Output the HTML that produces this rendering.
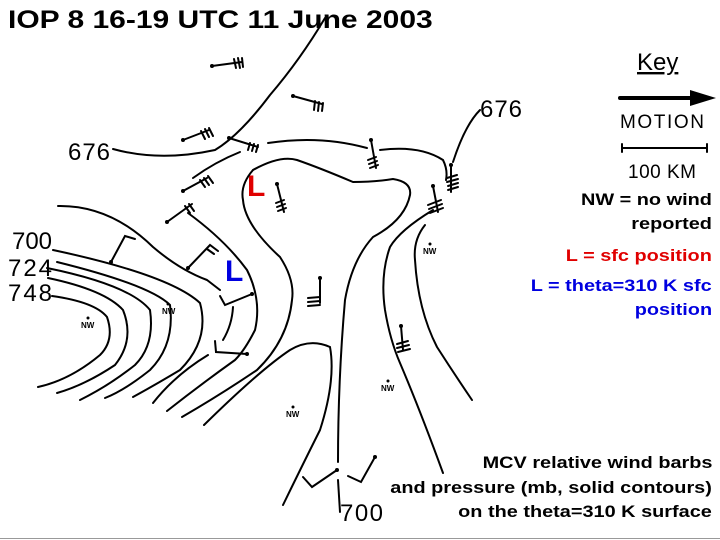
<!DOCTYPE html>
<html><head><meta charset="utf-8"><style>
body{margin:0;width:720px;height:540px;background:#fff;overflow:hidden;font-family:"Liberation Sans",sans-serif}
.t{position:absolute;font-weight:bold;white-space:nowrap}
.r{right:8px;text-align:right;font-size:17px;transform:scaleX(1.17);transform-origin:right center}
</style></head><body>
<div class="t" style="left:8px;top:6px;font-size:25px;transform:scaleX(1.2);transform-origin:left center">IOP 8 16-19 UTC 11 June 2003</div>
<div class="t r" style="top:190px">NW = no wind</div>
<div class="t r" style="top:214px">reported</div>
<div class="t r" style="top:246px;color:#e00000">L = sfc position</div>
<div class="t r" style="top:276px;color:#0000e0">L = theta=310 K sfc</div>
<div class="t r" style="top:300px;color:#0000e0">position</div>
<div class="t r" style="top:453px">MCV relative wind barbs</div>
<div class="t r" style="top:478px">and pressure (mb, solid contours)</div>
<div class="t r" style="top:502px">on the theta=310 K surface</div>
<div class="t" style="left:247px;top:170px;font-size:30px;color:#e00000">L</div>
<div class="t" style="left:225px;top:255px;font-size:30px;color:#0000e0">L</div>
<svg width="720" height="540" style="position:absolute;left:0;top:0" fill="none" stroke="#000" stroke-width="2" stroke-linecap="round">
<g font-family="Liberation Sans, sans-serif" font-size="24" fill="#000" stroke="none">
<text x="68" y="160" textLength="42">676</text><text x="480" y="117" textLength="42">676</text>
<text x="12" y="249" textLength="40">700</text><text x="8" y="276" textLength="44">724</text><text x="8" y="301" textLength="44">748</text>
<text x="340" y="521" textLength="43">700</text>
<text x="637" y="70" text-decoration="underline">Key</text>
<text x="620" y="128" font-size="19" textLength="84">MOTION</text>
<text x="628" y="178" font-size="19" textLength="68">100 KM</text>
</g>
<g font-family="Liberation Sans, sans-serif" font-size="8" font-weight="bold" fill="#000" stroke="none">
<text x="81" y="328">NW</text><text x="162" y="314">NW</text><text x="423" y="254">NW</text><text x="286" y="417">NW</text><text x="381" y="391">NW</text>
</g>
<g fill="#000" stroke="none">
<circle cx="88" cy="318" r="1.5"/><circle cx="168" cy="304" r="1.5"/><circle cx="430" cy="244" r="1.5"/><circle cx="293" cy="407" r="1.5"/><circle cx="388" cy="381" r="1.5"/>
<path d="M690 90 L716 98 L690 106Z"/>
</g>
<path d="M620 98 L695 98" stroke-width="4"/>
<path d="M622 148 L707 148 M622 144 L622 152 M707 144 L707 152"/>
<path d="M113 149 Q160 162 215 150 Q240 135 270 95 Q300 60 325 18"/>
<path d="M193 178 Q215 162 240 152"/>
<path d="M268 143 Q320 135 367 148"/>
<path d="M380 150 Q420 145 443 160 Q448 170 446 180"/>
<path d="M453 162 Q465 125 480 110"/>
<path d="M253 170 Q280 155 297 160 Q320 168 353 182 Q375 182 393 179 Q412 182 410 195 Q405 220 373 237 Q352 260 345 300 Q338 380 338 462"/>
<path d="M253 170 Q240 185 243 200 Q245 225 280 257 Q295 280 292 300 Q288 340 257 370 Q220 395 182 417"/>
<path d="M204 425 Q260 370 290 350 Q310 338 330 347 Q336 380 320 430 Q300 470 283 505"/>
<path d="M433 210 Q400 230 390 247 Q380 275 385 310 Q390 340 400 363 Q420 410 443 473"/>
<path d="M425 225 Q413 240 415 260 Q418 310 437 347 Q455 375 472 400"/>
<path d="M52 296 Q95 302 107 317 Q115 340 100 355 Q70 380 38 387"/>
<path d="M48 278 Q105 290 123 310 Q135 340 115 365 Q85 385 57 393"/>
<path d="M47 268 Q130 285 150 310 Q155 345 135 365 Q110 385 80 400"/>
<path d="M57 262 Q150 285 170 305 Q175 345 150 370 Q125 390 105 398"/>
<path d="M53 250 Q170 275 200 303 Q210 340 180 370 Q155 385 133 397"/>
<path d="M58 206 Q110 205 153 247 Q180 270 207 280 L220 290"/>
<path d="M233 307 Q232 325 223 340"/>
<path d="M208 355 Q175 375 153 403"/>
<path d="M188 213 Q225 240 247 270 Q262 300 255 330 Q245 350 235 360 Q200 385 167 411"/>
<path d="M212 66 L242 62 M234 59 L236 68 M238 58 L240 68 M242 58 L243 67"/>
<path d="M293 96 L322 104 M315 101 L314 110 M319 102 L318 111 M323 103 L322 111"/>
<path d="M183 140 L209 130 M201 131 L205 139 M205 129 L209 137 M209 128 L213 136"/>
<path d="M229 138 L258 147 M250 143 L248 150 M254 144 L252 151 M258 145 L256 152"/>
<path d="M183 191 L207 178 M200 180 L205 187 M204 178 L209 185 M208 176 L213 183"/>
<path d="M167 222 L192 204 M185 206 L190 213 M189 204 L194 211"/>
<path d="M111 262 L125 236 L135 239"/>
<path d="M188 268 L210 245 L218 251 M207 249 L214 254"/>
<path d="M220 296 L225 305 L252 294"/>
<path d="M215 341 L216 352 L247 354"/>
<path d="M277 184 L284 212 M276 203 L284 200 M277 207 L285 204 M278 211 L286 208"/>
<path d="M371 140 L376 168 M368 160 L376 157 M369 164 L377 161 M370 168 L378 165"/>
<path d="M320 278 L320 303 M308 298 L320 297 M308 302 L320 301 M308 306 L320 305"/>
<path d="M451 165 L451 192 M447 178 L457 175 M447 182 L458 179 M448 186 L458 183 M448 190 L458 187"/>
<path d="M433 186 L438 212 M428 205 L441 200 M429 209 L442 204 M430 213 L443 208"/>
<path d="M401 326 L403 350 M397 344 L408 341 M397 348 L409 345 M398 352 L410 349"/>
<path d="M337 470 L312 487 L303 477 M338 480 L340 512"/>
<path d="M375 457 L361 482 L348 476"/>
<g fill="#000" stroke="none">
<circle cx="212" cy="66" r="2"/><circle cx="293" cy="96" r="2"/><circle cx="183" cy="140" r="2"/><circle cx="229" cy="138" r="2"/><circle cx="183" cy="191" r="2"/><circle cx="167" cy="222" r="2"/><circle cx="111" cy="262" r="2"/><circle cx="188" cy="268" r="2"/><circle cx="252" cy="294" r="2"/><circle cx="247" cy="354" r="2"/><circle cx="277" cy="184" r="2"/><circle cx="371" cy="140" r="2"/><circle cx="320" cy="278" r="2"/><circle cx="451" cy="165" r="2"/><circle cx="433" cy="186" r="2"/><circle cx="401" cy="326" r="2"/><circle cx="337" cy="470" r="2"/><circle cx="375" cy="457" r="2"/>
</g>
<path d="M0 538.5 L720 538.5" stroke="#999" stroke-width="1"/>
</svg>
</body></html>
